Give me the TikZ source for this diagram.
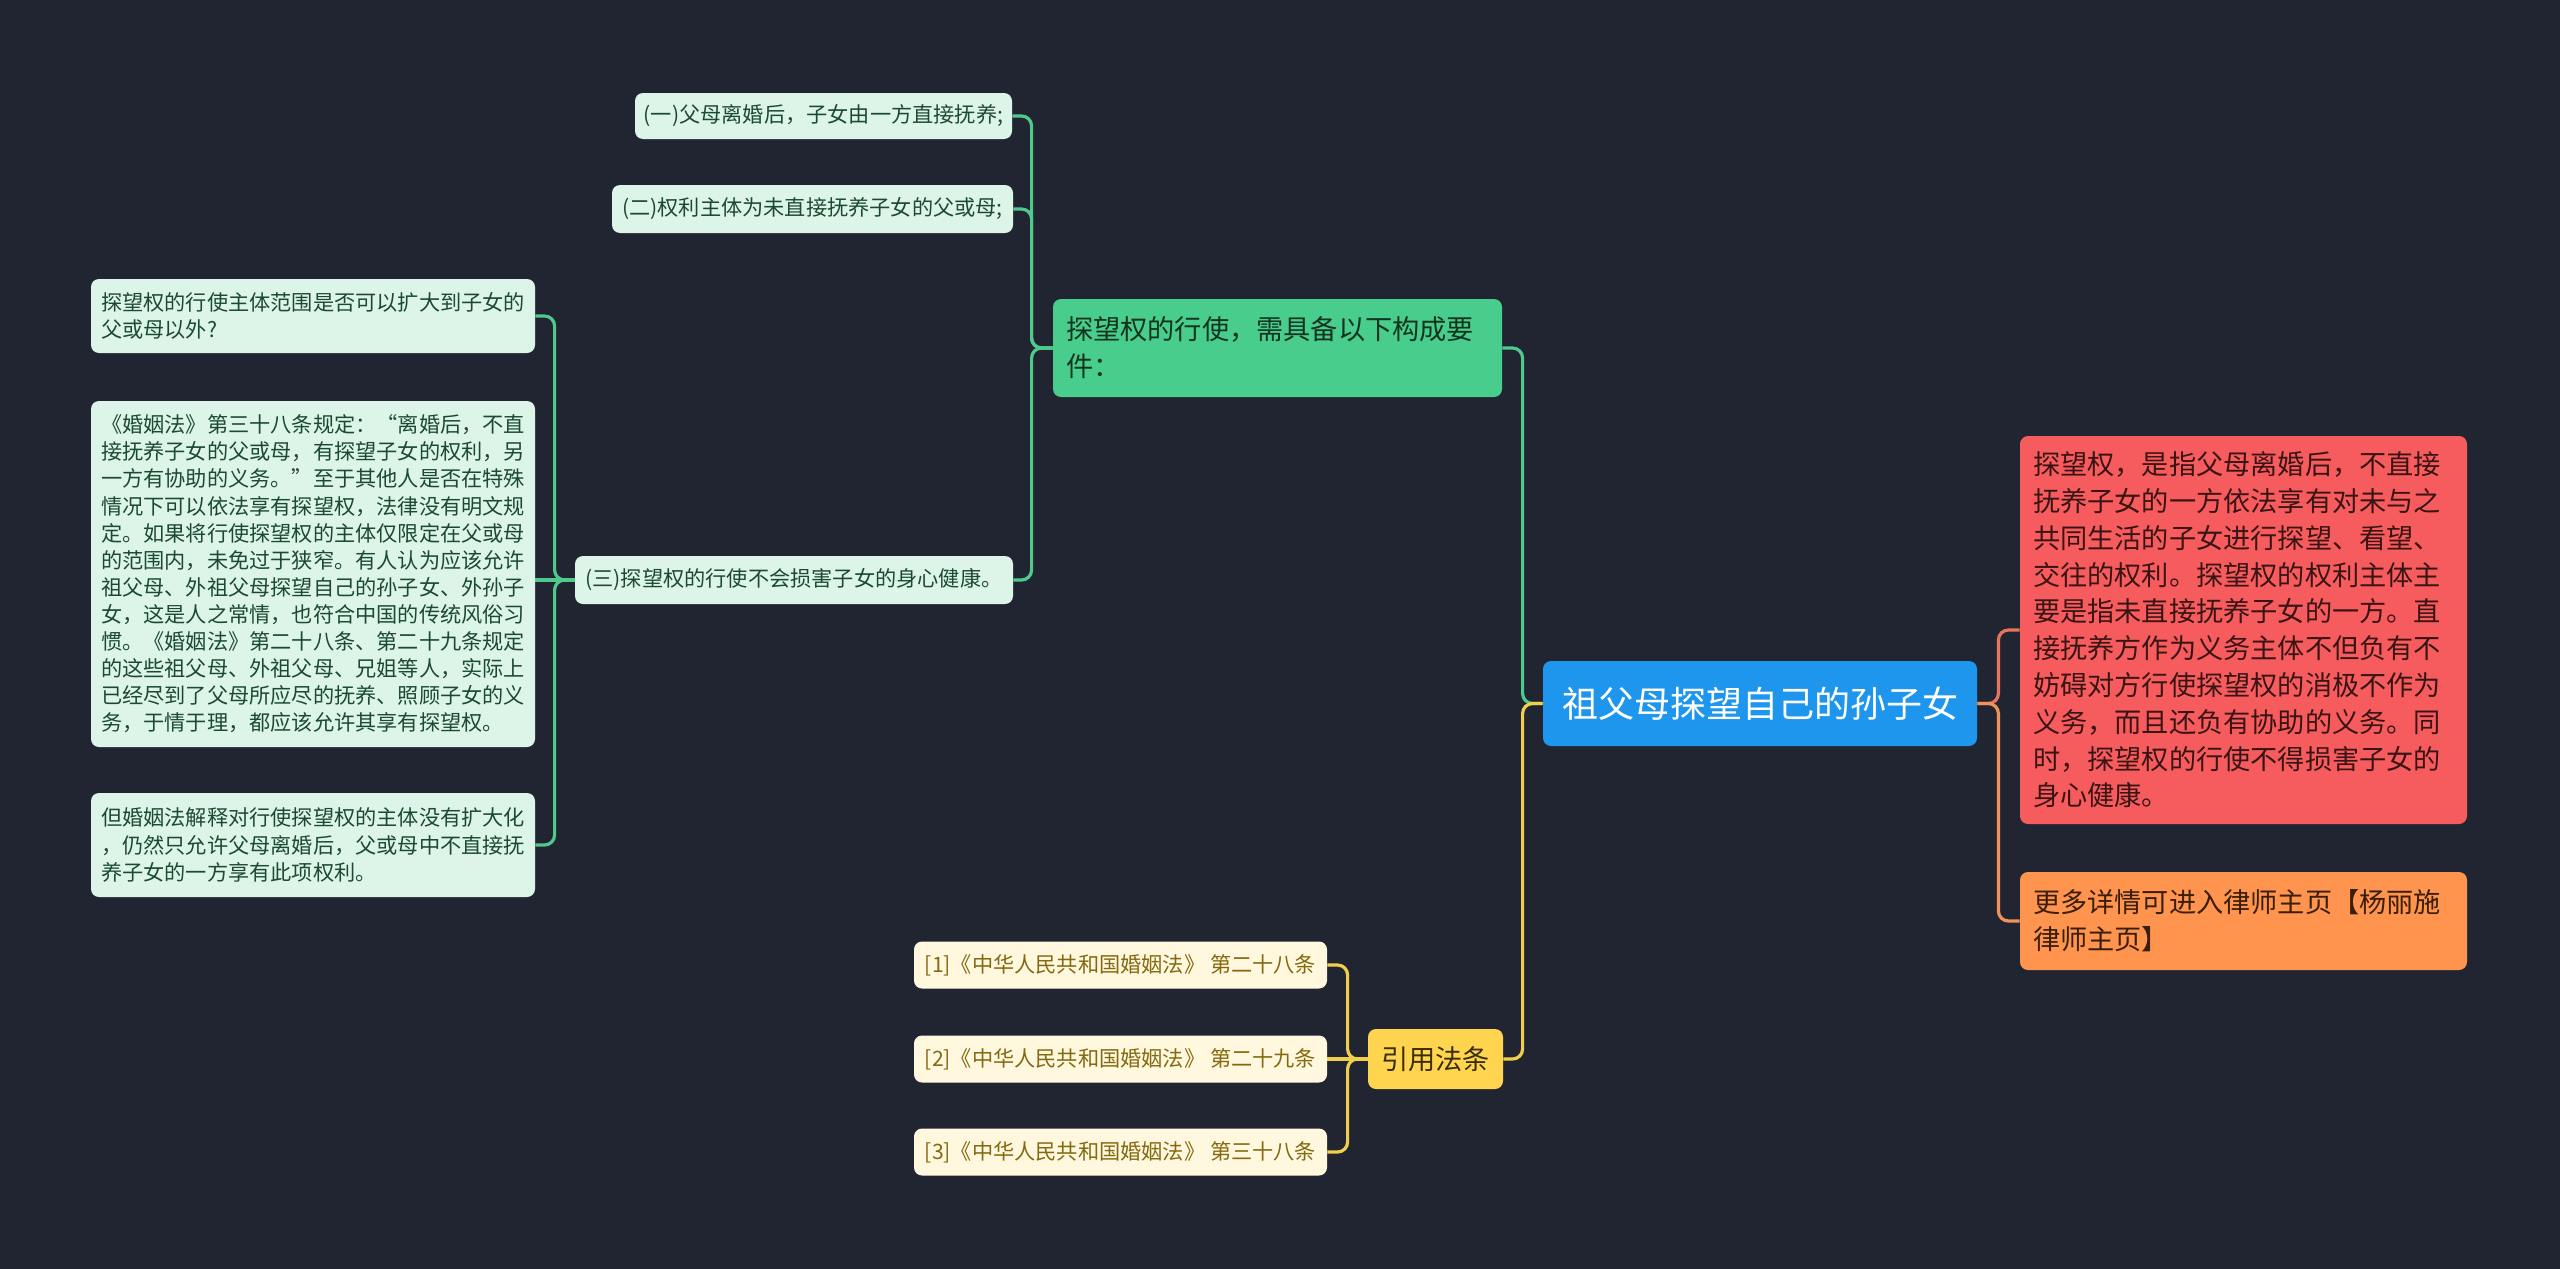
\documentclass[tikz,border=0pt]{standalone}
\usepackage{fontspec}
\setmainfont{Noto Sans CJK SC}
\definecolor{bg}{HTML}{212531}
\definecolor{rootblue}{HTML}{1E96EE}
\definecolor{redbox}{HTML}{F65C5E}
\definecolor{redtxt}{HTML}{3A1414}
\definecolor{orangebox}{HTML}{FF944F}
\definecolor{orangetxt}{HTML}{3A1E08}
\definecolor{greenbox}{HTML}{48CD8C}
\definecolor{greentxt}{HTML}{12331F}
\definecolor{lightgreen}{HTML}{DCF5E8}
\definecolor{lgtxt}{HTML}{1C4A31}
\definecolor{yellowbox}{HTML}{FFD54F}
\definecolor{yellowtxt}{HTML}{3A2E06}
\definecolor{lightyellow}{HTML}{FFF8DF}
\definecolor{lytxt}{HTML}{84690F}
\definecolor{gline}{HTML}{4FC98C}
\definecolor{yline}{HTML}{F2CF4A}
\definecolor{rline}{HTML}{E8735E}
\definecolor{oline}{HTML}{F0925A}
\tikzset{
  box/.style={rounded corners=4pt, inner ysep=0pt, align=left},
  conn/.style={line width=1.6pt, rounded corners=5pt},
  bigfont/.style={font={\fontsize{13.6pt}{18.4pt}\selectfont}},
  smallfont/.style={font={\fontsize{10.6pt}{13.55pt}\selectfont}},
  lgbox/.style={box, fill=lightgreen, text=lgtxt, smallfont},
  lybox/.style={box, fill=lightyellow, text=lytxt, smallfont, align=center, minimum width=206.5pt, minimum height=23.5pt},
}
\begin{document}
\begin{tikzpicture}[x=0.5pt,y=-0.5pt]
\fill[bg] (0,0) rectangle (2560,1269);
\useasboundingbox (0,0) rectangle (2560,1269);

% root
\node[box, fill=rootblue, text=white, align=center, minimum width=217pt, minimum height=42.5pt,
  font={\fontsize{18pt}{22pt}\selectfont}] (root) at (1760,703.5) {祖父母探望自己的孙子女};

% right side
\node[box, fill=redbox, text=redtxt, bigfont, inner xsep=6.5pt, text width=210.5pt, minimum height=194pt] (red) at (2243.5,630) {探望权，是指父母离婚后，不直接\\抚养子女的一方依法享有对未与之\\共同生活的子女进行探望、看望、\\交往的权利。探望权的权利主体主\\要是指未直接抚养子女的一方。直\\接抚养方作为义务主体不但负有不\\妨碍对方行使探望权的消极不作为\\义务，而且还负有协助的义务。同\\时，探望权的行使不得损害子女的\\身心健康。};
\node[box, fill=orangebox, text=orangetxt, bigfont, inner xsep=6.5pt, text width=210.5pt, minimum height=49pt] (orange) at (2243.5,921) {更多详情可进入律师主页【杨丽施\\律师主页】};

% green main
\node[box, fill=greenbox, text=greentxt, bigfont, inner xsep=6.5pt, text width=211.5pt, minimum height=49pt] (gmain) at (1277.5,348) {探望权的行使，需具备以下构成要\\件：};

% green children
\node[lgbox, align=center, minimum width=188.5pt, minimum height=23pt] (c1) at (823.5,116) {(一)父母离婚后，子女由一方直接抚养;};
\node[lgbox, align=center, minimum width=200.5pt, minimum height=24pt] (c2) at (812.5,209) {(二)权利主体为未直接抚养子女的父或母;};
\node[lgbox, align=center, minimum width=219pt, minimum height=24pt] (c3) at (794,580) {(三)探望权的行使不会损害子女的身心健康。};

% left boxes
\node[lgbox, inner xsep=5pt, text width=212pt, minimum height=37pt] (l1) at (313,316) {探望权的行使主体范围是否可以扩大到子女的\\父或母以外?};
\node[lgbox, inner xsep=5pt, text width=212pt, minimum height=173pt] (l2) at (313,574) {《婚姻法》第三十八条规定：“离婚后，不直\\接抚养子女的父或母，有探望子女的权利，另\\一方有协助的义务。”至于其他人是否在特殊\\情况下可以依法享有探望权，法律没有明文规\\定。如果将行使探望权的主体仅限定在父或母\\的范围内，未免过于狭窄。有人认为应该允许\\祖父母、外祖父母探望自己的孙子女、外孙子\\女，这是人之常情，也符合中国的传统风俗习\\惯。《婚姻法》第二十八条、第二十九条规定\\的这些祖父母、外祖父母、兄姐等人，实际上\\已经尽到了父母所应尽的抚养、照顾子女的义\\务，于情于理，都应该允许其享有探望权。};
\node[lgbox, inner xsep=5pt, text width=212pt, minimum height=52pt] (l3) at (313,845) {但婚姻法解释对行使探望权的主体没有扩大化\\，仍然只允许父母离婚后，父或母中不直接抚\\养子女的一方享有此项权利。};

% citations
\node[box, fill=yellowbox, text=yellowtxt, bigfont, align=center, minimum width=67.5pt, minimum height=30pt] (cite) at (1435.5,1059) {引用法条};
\node[lybox] (ci1) at (1120.5,965) {[1]《中华人民共和国婚姻法》 第二十八条};
\node[lybox] (ci2) at (1120.5,1059) {[2]《中华人民共和国婚姻法》 第二十九条};
\node[lybox] (ci3) at (1120.5,1152) {[3]《中华人民共和国婚姻法》 第三十八条};

% connectors
\draw[conn, rline] (root.east) -- ++(21,0) |- (red.west);
\draw[conn, oline] (root.east) -- ++(21,0) |- (orange.west);
\draw[conn, gline] (root.west) -- ++(-20,0) |- (gmain.east);
\draw[conn, yline] (root.west) -- ++(-20,0) |- (cite.east);
\draw[conn, gline] (gmain.west) -- ++(-21,0) |- (c1.east);
\draw[conn, gline] (gmain.west) -- ++(-21,0) |- (c2.east);
\draw[conn, gline] (gmain.west) -- ++(-21,0) |- (c3.east);
\draw[conn, gline] (c3.west) -- ++(-20,0) |- (l1.east);
\draw[conn, gline] (c3.west) -- (l2.east |- c3.west);
\draw[conn, gline] (c3.west) -- ++(-20,0) |- (l3.east);
\draw[conn, yline] (cite.west) -- ++(-20,0) |- (ci1.east);
\draw[conn, yline] (cite.west) -- (ci2.east);
\draw[conn, yline] (cite.west) -- ++(-20,0) |- (ci3.east);
\end{tikzpicture}
\end{document}
